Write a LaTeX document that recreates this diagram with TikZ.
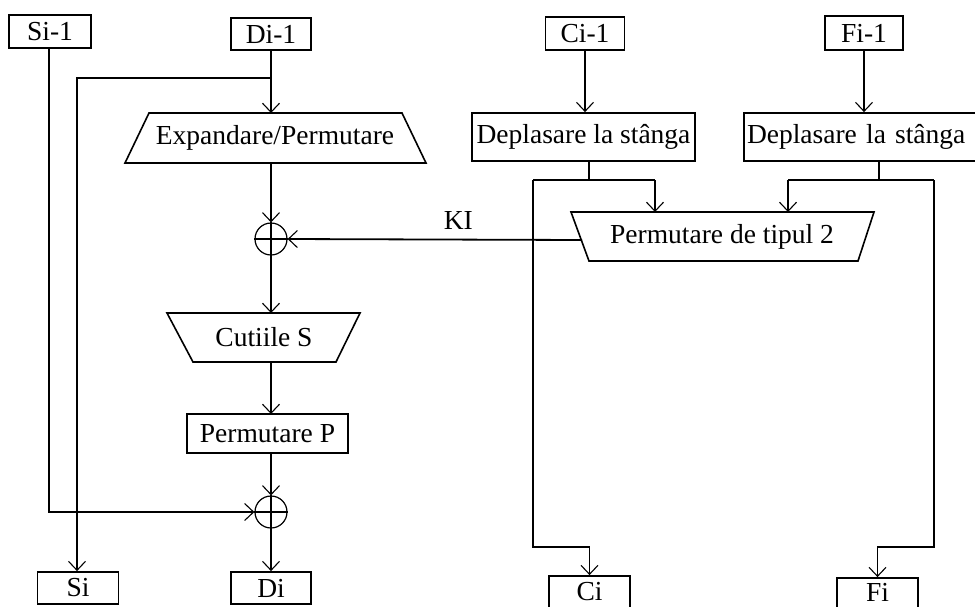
\documentclass[tikz,border=0pt]{standalone}
\usepackage{fontspec}
\setmainfont{Liberation Serif}
\usetikzlibrary{arrows.meta,calc}
\begin{document}
\begin{tikzpicture}[x=1pt,y=-1pt,
  wire/.style={line width=1.8pt,-{Straight Barb[length=9pt,width=17pt,line width=1.1pt]}},
  plain/.style={line width=1.8pt},
  txt/.style={font=\fontsize{27.5}{32}\selectfont},
  box/.style={draw,line width=1.8pt,rectangle,inner sep=0pt,txt},
  lbl/.style={inner sep=0pt,txt},
  xorc/.style={draw,circle,line width=1.2pt,minimum size=32pt,inner sep=0pt},
  trap/.style={line width=1.6pt,line join=miter}]

% page area
\fill[white] (0,0) rectangle (975,606);
\useasboundingbox (0,0) rectangle (975,606);
\begin{scope}
\clip (0,0) rectangle (975,606);

% ---------- inputs ----------
\node[box,minimum width=82pt,minimum height=33pt] (si1) at (50,31.5) {Si-1};
\node[box,minimum width=80pt,minimum height=32pt] (di1) at (271,34) {Di-1};
\node[box,minimum width=79pt,minimum height=33pt] (ci1) at (585,33.5) {Ci-1};
\node[box,minimum width=78pt,minimum height=34pt] (fi1) at (864,33) {Fi-1};

% ---------- left branch (D) ----------
\coordinate (exp-tl) at (149,113); \coordinate (exp-tr) at (402,113);
\coordinate (exp-br) at (426,163); \coordinate (exp-bl) at (125,163);
\draw[trap] (exp-tl) -- (exp-tr) -- (exp-br) -- (exp-bl) -- cycle;
\node[lbl] (exp) at (275,138) {Expandare/Permutare};
\coordinate (exp-t) at (271,113);
\coordinate (exp-b) at (271,163);

\node[xorc] (x1) at (271,239) {};
\draw[line width=1.5pt] (x1.west) -- (x1.east) (x1.north) -- (x1.south);

\coordinate (cut-tl) at (167,313); \coordinate (cut-tr) at (360,313);
\coordinate (cut-br) at (336,362); \coordinate (cut-bl) at (193,362);
\draw[trap] (cut-tl) -- (cut-tr) -- (cut-br) -- (cut-bl) -- cycle;
\node[lbl] (cut) at (264,337) {Cutiile S};
\coordinate (cut-t) at (271,313);
\coordinate (cut-b) at (271,362);

\node[box,minimum width=161pt,minimum height=39pt] (pp) at (267.5,433.5) {Permutare P};
\coordinate (pp-t) at (271,414);
\coordinate (pp-b) at (271,453);

\node[xorc] (x2) at (271,512) {};
\draw[line width=1.5pt] (x2.west) -- (x2.east) (x2.north) -- (x2.south);

% ---------- outputs (lower edges run off the page) ----------
\node[box,minimum width=81pt,minimum height=32pt] (si) at (78,588) {Si};
\node[box,minimum width=80pt,minimum height=32pt] (di) at (271,588) {Di};
\node[box,minimum width=81pt,minimum height=31.5pt] (ci) at (589.5,591.75) {Ci};
\node[box,minimum width=81pt,minimum height=29.5pt] (fi) at (877.5,592.75) {Fi};

% ---------- right branch (C, F) ----------
\node[box,minimum width=223pt,minimum height=48pt] (dep1) at (583.5,137) {Deplasare la stânga};
\node[box,minimum width=246pt,minimum height=48pt,text width=240pt,align=left] (dep2) at (867,137) {Deplasare la stânga};

\coordinate (p2-tl) at (571,212); \coordinate (p2-tr) at (874,212);
\coordinate (p2-br) at (858,261); \coordinate (p2-bl) at (589,261);
\draw[trap] (p2-tl) -- (p2-tr) -- (p2-br) -- (p2-bl) -- cycle;
\node[lbl] (p2) at (722,237) {Permutare de tipul 2};
\coordinate (p2-w) at (582,240);

% ---------- connectors ----------
% S path
\coordinate (sbend) at (49,512);
\draw[wire] (si1.south -| sbend) -- (sbend) -- (x2.west);

% D path with side branch to Si
\coordinate (dsplit) at (271,78);
\coordinate (dleft) at (77,78);
\draw[plain] (di1.south) -- (dsplit);
\draw[wire] (dsplit) -- (exp-t);
\draw[wire] (dsplit) -- (dleft) -- (dleft |- si.north);

\draw[wire] (exp-b) -- (x1.north);
\draw[wire] (x1.south) -- (cut-t);
\draw[wire] (cut-b) -- (pp-t);
\draw[wire] (pp-b) -- (x2.north);
\draw[wire] (x2.south) -- (di.north);

% subkey KI
\draw[wire] (p2-w) -- node[lbl,above=9pt,pos=0.42] (ki) {KI} (x1.east);

% C path
\draw[wire] (ci1.south) -- (ci1.south |- dep1.north);
\coordinate (c0) at (589,161);
\coordinate (c1) at (589,180);
\coordinate (cl) at (533,180);
\coordinate (cr) at (655,180);
\coordinate (cd) at (533,547);
\draw[plain] (c0) -- (c1);
\draw[plain] (cl) -- (cr);
\draw[wire] (cr) -- (cr |- p2-tl);
\draw[wire] (cl) -- (cd) -- (cd -| ci.north) -- (ci.north);

% F path
\draw[wire] (fi1.south) -- (fi1.south |- dep2.north);
\coordinate (f0) at (879,161);
\coordinate (f1) at (879,180);
\coordinate (fl) at (788,180);
\coordinate (fr) at (934,180);
\coordinate (fd) at (934,547);
\draw[plain] (f0) -- (f1);
\draw[plain] (fl) -- (fr);
\draw[wire] (fl) -- (fl |- p2-tl);
\draw[wire] (fr) -- (fd) -- (fd -| fi.north) -- (fi.north);
\end{scope}
\end{tikzpicture}
\end{document}
